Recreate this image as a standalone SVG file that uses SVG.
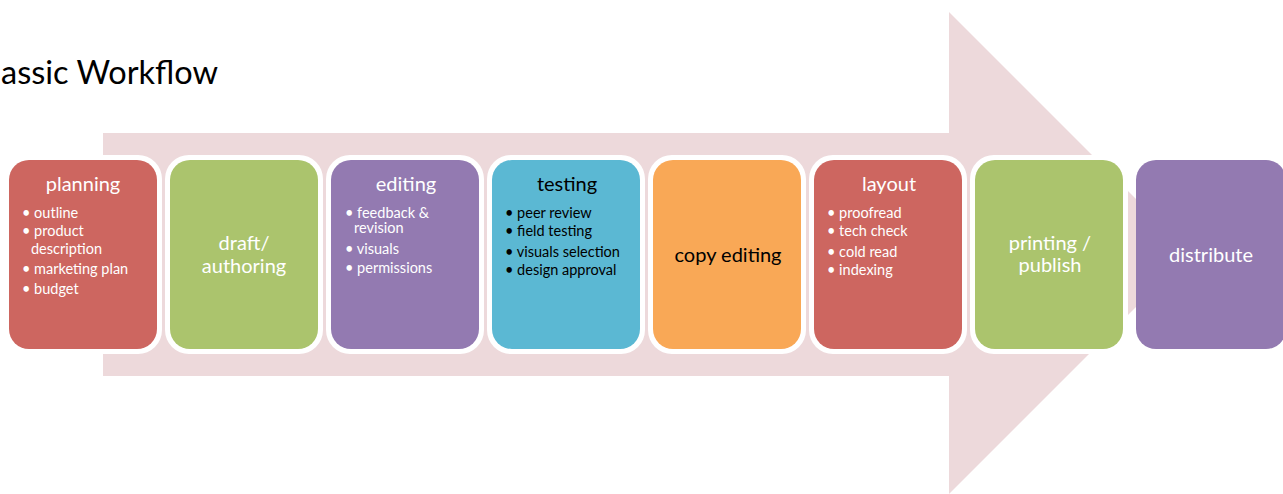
<svg xmlns="http://www.w3.org/2000/svg" width="1283" height="494" viewBox="0 0 1283 494">
<defs>
<style>
.frame{fill:#fff}
.red{fill:#CD6660}.green{fill:#ABC46D}.purple{fill:#937AB1}.teal{fill:#5BB8D3}.orange{fill:#F9A856}
text{font-family:Lato,"Liberation Sans",sans-serif}
.t{font-size:20px;text-anchor:middle}
.b{font-size:14.5px}
.w{fill:#fff}.k{fill:#000}
</style>
</defs>
<rect width="1283" height="494" fill="#fff"/>
<text x="1" y="84" font-size="32" textLength="217" lengthAdjust="spacingAndGlyphs" fill="#000">assic Workflow</text>
<g id="arrow"><polygon points="103,133 949,133 949,12 1190,253 949,494 949,376 103,376" fill="#EDD9DB"/></g>
<g id="connectors"></g>
<g id="planning"><rect class="frame" x="4" y="155" width="158" height="199" rx="24"/><rect class="red" x="9" y="160" width="148" height="189" rx="20"/>
<text class="t w" x="83" y="191">planning</text>
<text class="b w"><tspan x="22" y="218">• outline</tspan><tspan x="22" y="236">• product</tspan><tspan x="31" y="254">description</tspan><tspan x="22" y="274">• marketing plan</tspan><tspan x="22" y="294">• budget</tspan></text></g>
<g id="draft"><rect class="frame" x="165" y="155" width="158" height="199" rx="24"/><rect class="green" x="170" y="160" width="148" height="189" rx="20"/>
<text class="t w" x="244" y="250">draft/</text><text class="t w" x="244" y="273">authoring</text></g>
<g id="editing"><rect class="frame" x="326" y="155" width="158" height="199" rx="24"/><rect class="purple" x="331" y="160" width="148" height="189" rx="20"/>
<text class="t w" x="406" y="191">editing</text>
<text class="b w"><tspan x="345" y="218">• feedback &amp;</tspan><tspan x="354" y="233">revision</tspan><tspan x="345" y="254">• visuals</tspan><tspan x="345" y="273">• permissions</tspan></text></g>
<g id="testing"><rect class="frame" x="487" y="155" width="158" height="199" rx="24"/><rect class="teal" x="492" y="160" width="148" height="189" rx="20"/>
<text class="t k" x="567" y="191">testing</text>
<text class="b k"><tspan x="505" y="218">• peer review</tspan><tspan x="505" y="236">• field testing</tspan><tspan x="505" y="257">• visuals selection</tspan><tspan x="505" y="275">• design approval</tspan></text></g>
<g id="copy"><rect class="frame" x="648" y="155" width="158" height="199" rx="24"/><rect class="orange" x="653" y="160" width="148" height="189" rx="20"/>
<text class="t k" x="728" y="262">copy editing</text></g>
<g id="layout"><rect class="frame" x="809" y="155" width="158" height="199" rx="24"/><rect class="red" x="814" y="160" width="148" height="189" rx="20"/>
<text class="t w" x="889" y="191">layout</text>
<text class="b w"><tspan x="827" y="218">• proofread</tspan><tspan x="827" y="236">• tech check</tspan><tspan x="827" y="257">• cold read</tspan><tspan x="827" y="275">• indexing</tspan></text></g>
<g id="printing"><rect class="frame" x="970" y="155" width="158" height="199" rx="24"/><rect class="green" x="975" y="160" width="148" height="189" rx="20"/>
<text class="t w" x="1050" y="250">printing /</text><text class="t w" x="1050" y="272">publish</text></g>
<g id="distribute"><rect class="purple" x="1136" y="160" width="150" height="189" rx="20"/>
<text class="t w" x="1211" y="262">distribute</text></g>
</svg>
